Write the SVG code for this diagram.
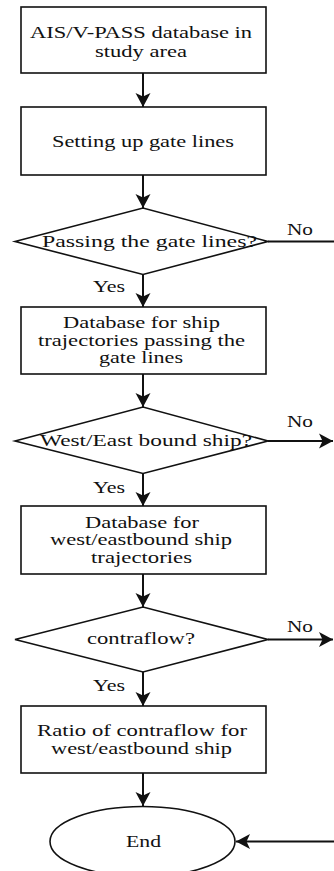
<svg xmlns="http://www.w3.org/2000/svg" width="334" height="871" viewBox="0 0 334 871">
<style>
.shape{fill:#fff;stroke:#111;stroke-width:1.6}
.conn{fill:none;stroke:#111;stroke-width:2}
text{font-family:"Liberation Serif","Times New Roman",serif;font-size:17px;fill:#111;text-anchor:middle}
</style>
<defs>
<marker id="arr" markerUnits="userSpaceOnUse" viewBox="-14 -8 15 16" refX="0" refY="0" markerWidth="15" markerHeight="16" orient="auto">
<path d="M0,0 L-14,-7.5 L-10.5,0 L-14,7.5 Z" fill="#111"/>
</marker>
</defs>
<rect width="334" height="871" fill="#fff"/>
<g id="connectors">
<line class="conn" x1="143" y1="73" x2="143" y2="107" marker-end="url(#arr)"/>
<line class="conn" x1="143" y1="175" x2="143" y2="208" marker-end="url(#arr)"/>
<line class="conn" x1="143" y1="274.5" x2="143" y2="307" marker-end="url(#arr)"/>
<line class="conn" x1="143" y1="374" x2="143" y2="407" marker-end="url(#arr)"/>
<line class="conn" x1="143" y1="473.5" x2="143" y2="506" marker-end="url(#arr)"/>
<line class="conn" x1="143" y1="574" x2="143" y2="607" marker-end="url(#arr)"/>
<line class="conn" x1="143" y1="672" x2="143" y2="706" marker-end="url(#arr)"/>
<line class="conn" x1="143" y1="773" x2="143" y2="806" marker-end="url(#arr)"/>
<line class="conn" x1="268" y1="241.5" x2="334" y2="241.5"/>
<line class="conn" x1="268" y1="441" x2="333" y2="441" marker-end="url(#arr)"/>
<line class="conn" x1="268" y1="639.5" x2="333" y2="639.5" marker-end="url(#arr)"/>
<line class="conn" x1="334" y1="841.5" x2="236" y2="841.5" marker-end="url(#arr)"/>
<text x="300" y="235" textLength="26" lengthAdjust="spacingAndGlyphs">No</text>
<text x="109" y="292" textLength="32" lengthAdjust="spacingAndGlyphs">Yes</text>
<text x="300" y="427" textLength="26" lengthAdjust="spacingAndGlyphs">No</text>
<text x="109" y="493" textLength="32" lengthAdjust="spacingAndGlyphs">Yes</text>
<text x="300" y="632" textLength="26" lengthAdjust="spacingAndGlyphs">No</text>
<text x="109" y="691" textLength="32" lengthAdjust="spacingAndGlyphs">Yes</text>
</g>
<g id="n1">
<rect class="shape" x="21" y="7" width="245" height="66"/>
<text x="141" y="38" textLength="222" lengthAdjust="spacingAndGlyphs">AIS/V-PASS database in</text>
<text x="141" y="57" textLength="92" lengthAdjust="spacingAndGlyphs">study area</text>
</g>
<g id="n2">
<rect class="shape" x="21" y="107" width="245" height="68"/>
<text x="143" y="147" textLength="182" lengthAdjust="spacingAndGlyphs">Setting up gate lines</text>
</g>
<g id="d1">
<polygon class="shape" points="15,241.5 143,208 268,241.5 143,274.5"/>
<text x="149.5" y="247" textLength="215" lengthAdjust="spacingAndGlyphs">Passing the gate lines?</text>
</g>
<g id="n3">
<rect class="shape" x="21" y="307" width="245" height="67"/>
<text x="141.5" y="328" textLength="157" lengthAdjust="spacingAndGlyphs">Database for ship</text>
<text x="141.5" y="345.5" textLength="207" lengthAdjust="spacingAndGlyphs">trajectories passing the</text>
<text x="141" y="363" textLength="84" lengthAdjust="spacingAndGlyphs">gate lines</text>
</g>
<g id="d2">
<polygon class="shape" points="15,441 143,407 268,441 143,473.5"/>
<text x="146" y="446" textLength="212" lengthAdjust="spacingAndGlyphs">West/East bound ship?</text>
</g>
<g id="n4">
<rect class="shape" x="21" y="506" width="245" height="68"/>
<text x="142" y="527.5" textLength="114" lengthAdjust="spacingAndGlyphs">Database for</text>
<text x="141" y="545" textLength="182" lengthAdjust="spacingAndGlyphs">west/eastbound ship</text>
<text x="141.5" y="562.5" textLength="101" lengthAdjust="spacingAndGlyphs">trajectories</text>
</g>
<g id="d3">
<polygon class="shape" points="15,639.5 143,607 268,639.5 143,672"/>
<text x="141" y="643.5" textLength="108" lengthAdjust="spacingAndGlyphs">contraflow?</text>
</g>
<g id="n5">
<rect class="shape" x="21" y="706" width="245" height="67"/>
<text x="142" y="736" textLength="210" lengthAdjust="spacingAndGlyphs">Ratio of contraflow for</text>
<text x="141.5" y="754" textLength="181" lengthAdjust="spacingAndGlyphs">west/eastbound ship</text>
</g>
<g id="end">
<ellipse class="shape" cx="142.5" cy="841.5" rx="92.5" ry="35"/>
<text x="143.5" y="847" textLength="35" lengthAdjust="spacingAndGlyphs">End</text>
</g>
</svg>
